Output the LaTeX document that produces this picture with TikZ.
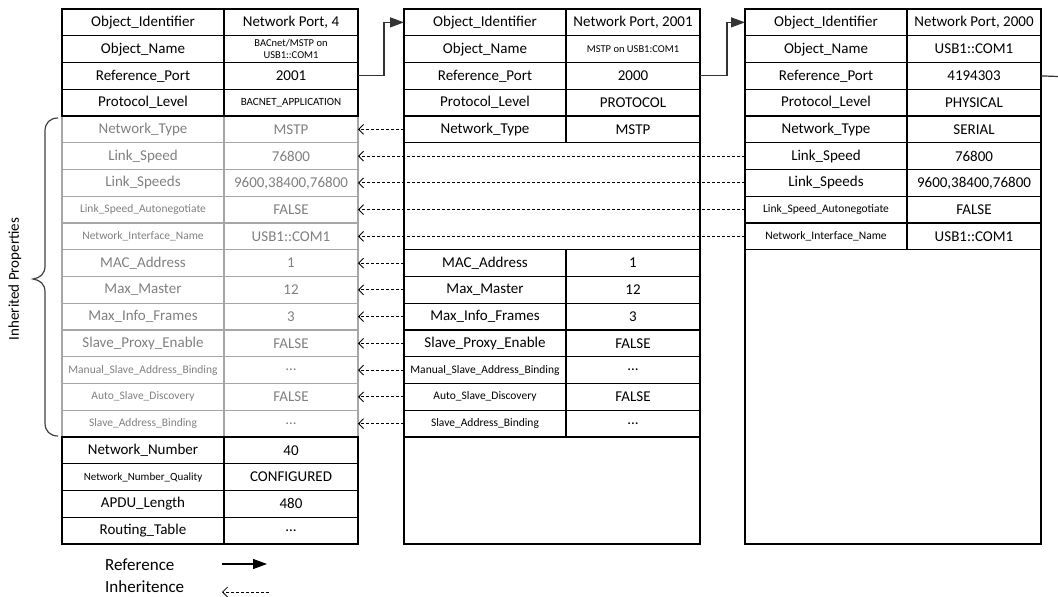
\documentclass[tikz,border=0pt]{standalone}
\usepackage{fontspec}
\setmainfont{Carlito}
\usetikzlibrary{arrows.meta}
\definecolor{gtext}{HTML}{808080}
\definecolor{gline}{HTML}{A6A6A6}
\newcommand\fsA{\fontsize{15}{16}\selectfont}
\newcommand\fsB{\fontsize{11.5}{12.5}\selectfont}
\newcommand\fsC{\fontsize{11}{12}\selectfont}
\newcommand\fsD{\fontsize{10.5}{12}\selectfont}
% #1 prefix, #2 row, #3 left x, #4 style, #5 fontA, #6 textA, #7 fontB, #8 textB
\newcommand\prow[8]{%
  \node[#4, minimum width=162pt, font=#5] (#1#2a) at ({#3+81},{9+(#2-0.5)*26.75}) {#6};
  \node[#4, minimum width=134pt, font=#7] (#1#2b) at ({#3+162+67},{9+(#2-0.5)*26.75}) {#8};
}
\tikzset{
  cellbox/.style={draw=black, line width=1.2pt, minimum height=26.75pt, inner sep=0pt, outer sep=0pt, align=center, text=black},
  graybox/.style={cellbox, draw=gline, text=gtext},
  outerbox/.style={draw=black, line width=1.2pt},
  refarrow/.style={draw=black!80, line width=1.2pt, -{Triangle[length=14pt,width=10pt]}},
  inharrow/.style={draw=black, line width=0.8pt, dash pattern=on 3pt off 2pt, -{Straight Barb[length=5pt,width=10pt]}},
  bracestyle/.style={draw=black!75, line width=1.2pt},
}
\begin{document}
\begin{tikzpicture}[x=1pt,y=-1pt]
\useasboundingbox (0,0) rectangle (1058,597);
% outer boxes
\draw[outerbox] (404,9) rectangle (700,544);
\draw[outerbox] (745,9) rectangle (1041,544);
% left table: inherited (gray) rows
\prow{L}{5}{62}{graybox}{\fsA}{Network\_Type}{\fsA}{MSTP}
\prow{L}{6}{62}{graybox}{\fsA}{Link\_Speed}{\fsA}{76800}
\prow{L}{7}{62}{graybox}{\fsA}{Link\_Speeds}{\fsA}{9600,38400,76800}
\prow{L}{8}{62}{graybox}{\fsB}{Link\_Speed\_Autonegotiate}{\fsA}{FALSE}
\prow{L}{9}{62}{graybox}{\fsB}{Network\_Interface\_Name}{\fsA}{USB1::COM1}
\prow{L}{10}{62}{graybox}{\fsA}{MAC\_Address}{\fsA}{1}
\prow{L}{11}{62}{graybox}{\fsA}{Max\_Master}{\fsA}{12}
\prow{L}{12}{62}{graybox}{\fsA}{Max\_Info\_Frames}{\fsA}{3}
\prow{L}{13}{62}{graybox}{\fsA}{Slave\_Proxy\_Enable}{\fsA}{FALSE}
\prow{L}{14}{62}{graybox}{\fsB}{Manual\_Slave\_Address\_Binding}{\fsA}{...}
\prow{L}{15}{62}{graybox}{\fsB}{Auto\_Slave\_Discovery}{\fsA}{FALSE}
\prow{L}{16}{62}{graybox}{\fsB}{Slave\_Address\_Binding}{\fsA}{...}
% left table: own rows
\prow{L}{1}{62}{cellbox}{\fsA}{Object\_Identifier}{\fsA}{Network Port, 4}
\prow{L}{2}{62}{cellbox}{\fsA}{Object\_Name}{\fsD}{BACnet/MSTP on\\USB1::COM1}
\prow{L}{3}{62}{cellbox}{\fsA}{Reference\_Port}{\fsA}{2001}
\prow{L}{4}{62}{cellbox}{\fsA}{Protocol\_Level}{\fsC}{BACNET\_APPLICATION}
\prow{L}{17}{62}{cellbox}{\fsA}{Network\_Number}{\fsA}{40}
\prow{L}{18}{62}{cellbox}{\fsC}{Network\_Number\_Quality}{\fsA}{CONFIGURED}
\prow{L}{19}{62}{cellbox}{\fsA}{APDU\_Length}{\fsA}{480}
\prow{L}{20}{62}{cellbox}{\fsA}{Routing\_Table}{\fsA}{...}
% middle table
\prow{M}{1}{404}{cellbox}{\fsA}{Object\_Identifier}{\fsA}{Network Port, 2001}
\prow{M}{2}{404}{cellbox}{\fsA}{Object\_Name}{\fsD}{MSTP on USB1:COM1}
\prow{M}{3}{404}{cellbox}{\fsA}{Reference\_Port}{\fsA}{2000}
\prow{M}{4}{404}{cellbox}{\fsA}{Protocol\_Level}{\fsA}{PROTOCOL}
\prow{M}{5}{404}{cellbox}{\fsA}{Network\_Type}{\fsA}{MSTP}
\prow{M}{10}{404}{cellbox}{\fsA}{MAC\_Address}{\fsA}{1}
\prow{M}{11}{404}{cellbox}{\fsA}{Max\_Master}{\fsA}{12}
\prow{M}{12}{404}{cellbox}{\fsA}{Max\_Info\_Frames}{\fsA}{3}
\prow{M}{13}{404}{cellbox}{\fsA}{Slave\_Proxy\_Enable}{\fsA}{FALSE}
\prow{M}{14}{404}{cellbox}{\fsB}{Manual\_Slave\_Address\_Binding}{\fsA}{...}
\prow{M}{15}{404}{cellbox}{\fsB}{Auto\_Slave\_Discovery}{\fsA}{FALSE}
\prow{M}{16}{404}{cellbox}{\fsB}{Slave\_Address\_Binding}{\fsA}{...}
% right table
\prow{R}{1}{745}{cellbox}{\fsA}{Object\_Identifier}{\fsA}{Network Port, 2000}
\prow{R}{2}{745}{cellbox}{\fsA}{Object\_Name}{\fsA}{USB1::COM1}
\prow{R}{3}{745}{cellbox}{\fsA}{Reference\_Port}{\fsA}{4194303}
\prow{R}{4}{745}{cellbox}{\fsA}{Protocol\_Level}{\fsA}{PHYSICAL}
\prow{R}{5}{745}{cellbox}{\fsA}{Network\_Type}{\fsA}{SERIAL}
\prow{R}{6}{745}{cellbox}{\fsA}{Link\_Speed}{\fsA}{76800}
\prow{R}{7}{745}{cellbox}{\fsA}{Link\_Speeds}{\fsA}{9600,38400,76800}
\prow{R}{8}{745}{cellbox}{\fsB}{Link\_Speed\_Autonegotiate}{\fsA}{FALSE}
\prow{R}{9}{745}{cellbox}{\fsB}{Network\_Interface\_Name}{\fsA}{USB1::COM1}
% reference connectors
\draw[refarrow] (L3b.east) -| ([xshift=-20pt]M1a.west) -- (M1a.west);
\draw[refarrow] (M3b.east) -| ([xshift=-18pt]R1a.west) -- (R1a.west);
\coordinate (Rout) at (1058,76.5);
\draw[draw=black!80, line width=1.2pt] (R3b.east) -- (Rout);
% inheritance connectors
\draw[inharrow] (M5a.west) -- (L5b.east);
\foreach \i in {6,...,9} { \draw[inharrow] (R\i a.west) -- (L\i b.east); }
\foreach \i in {10,...,16} { \draw[inharrow] (M\i a.west) -- (L\i b.east); }
% brace
\draw[bracestyle] (58,118) .. controls (50,118) and (45,123) .. (45,131)
  -- (45,266) .. controls (45,274) and (40,278) .. (33,279)
  .. controls (40,280) and (45,284) .. (45,292)
  -- (45,423) .. controls (45,431) and (50,436) .. (58,436);
\node[rotate=90, font=\fontsize{15}{16}\selectfont] (inhlabel) at (15,279) {Inherited Properties};
% legend
\node[anchor=west, font=\fontsize{17}{18}\selectfont, inner sep=0pt] (legref) at (105,565) {Reference};
\node[anchor=west, font=\fontsize{17}{18}\selectfont, inner sep=0pt] (leginh) at (105,587) {Inheritence};
\coordinate (lr1) at (222,564);
\coordinate (lr2) at (267,564);
\coordinate (li1) at (269,592);
\coordinate (li2) at (222,592);
\draw[refarrow, draw=black] (lr1) -- (lr2);
\draw[inharrow] (li1) -- (li2);
\end{tikzpicture}
\end{document}
